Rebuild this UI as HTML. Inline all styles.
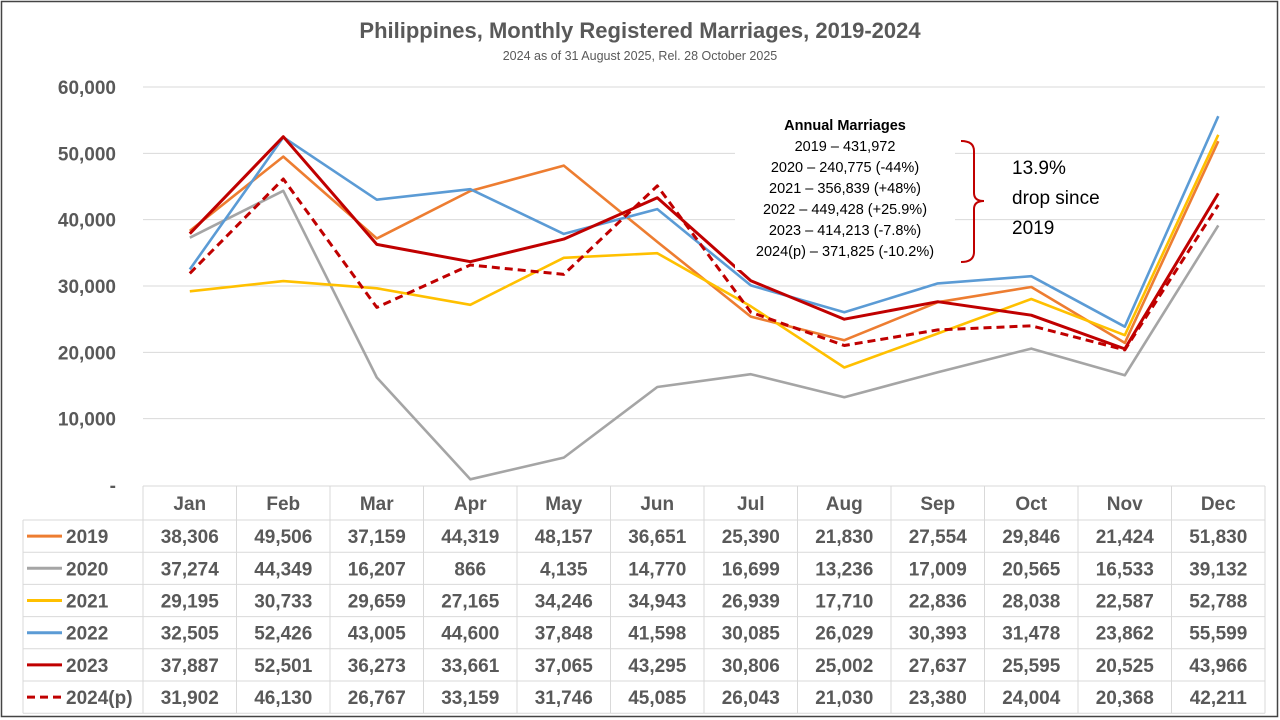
<!DOCTYPE html>
<html><head><meta charset="utf-8"><style>
html,body{margin:0;padding:0;background:#fff}
svg{display:block;font-family:"Liberation Sans",sans-serif}
</style></head><body>
<svg id="c" width="1280" height="720"></svg>
<script>
const months=["Jan","Feb","Mar","Apr","May","Jun","Jul","Aug","Sep","Oct","Nov","Dec"];
const seriesNames=["2019","2020","2021","2022","2023","2024(p)"];
const s2019=[38306,49506,37159,44319,48157,36651,25390,21830,27554,29846,21424,51830];
const s2020=[37274,44349,16207,866,4135,14770,16699,13236,17009,20565,16533,39132];
const s2021=[29195,30733,29659,27165,34246,34943,26939,17710,22836,28038,22587,52788];
const s2022=[32505,52426,43005,44600,37848,41598,30085,26029,30393,31478,23862,55599];
const s2023=[37887,52501,36273,33661,37065,43295,30806,25002,27637,25595,20525,43966];
const s2024=[31902,46130,26767,33159,31746,45085,26043,21030,23380,24004,20368,42211];
const yTicks=[0,10000,20000,30000,40000,50000,60000];
const annual=["2019 – 431,972","2020 – 240,775 (-44%)","2021 – 356,839 (+48%)","2022 – 449,428 (+25.9%)","2023 – 414,213 (-7.8%)","2024(p) – 371,825 (-10.2%)"];

const NS="http://www.w3.org/2000/svg";
const svg=document.getElementById('c');
function el(t,a,txt){const e=document.createElementNS(NS,t);for(const k in a)e.setAttribute(k,a[k]);if(txt!==undefined)e.textContent=txt;svg.appendChild(e);return e;}
const x0=143,x1=1265,colW=(x1-x0)/12;
const y0=485,yTop=87;
const y=v=>y0-(v/60000)*(y0-yTop);
const x=i=>x0+colW*(i+0.5);

let e=el('rect',{x:1.5,y:1.5,width:1276,height:715,fill:'#fff',stroke:'#444','stroke-width':1.5});


e=el('text',{x:640,y:38,'text-anchor':'middle','font-size':22,'font-weight':'bold',fill:'#595959'},'Philippines, Monthly Registered Marriages, 2019-2024');


e=el('text',{x:640,y:60,'text-anchor':'middle','font-size':12.5,fill:'#595959'},'2024 as of 31 August 2025, Rel. 28 October 2025');



yTicks.forEach(v=>{
  if(v>0){e=el('line',{x1:x0,x2:x1,y1:y(v),y2:y(v),stroke:'#d9d9d9','stroke-width':1});
  
  }
  e=el('text',{x:116,y:y(v)+7,'text-anchor':'end','font-size':19,'font-weight':'bold',fill:'#595959'},v===0?'-':v.toLocaleString('en-US'));
  
  
});

// table
const rowH=32.2,tTop=486,hdrH=34;
const tableLeft=23;
const gridC='#d9d9d9';
for(let i=0;i<=12;i++){const xx=x0+colW*i;el('line',{x1:xx,x2:xx,y1:tTop,y2:tTop+hdrH+rowH*6,stroke:gridC});}
el('line',{x1:tableLeft,x2:tableLeft,y1:tTop+hdrH,y2:tTop+hdrH+rowH*6,stroke:gridC});
el('line',{x1:x0,x2:x1,y1:tTop,y2:tTop,stroke:gridC});
for(let r=0;r<=6;r++){const yy=tTop+hdrH+rowH*r;el('line',{x1:tableLeft,x2:x1,y1:yy,y2:yy,stroke:gridC});}
months.forEach((m,i)=>{e=el('text',{x:x(i),y:tTop+24,'text-anchor':'middle','font-size':19,'font-weight':'bold',fill:'#595959'},m);
 
 });

const data=[s2019,s2020,s2021,s2022,s2023,s2024];
const colors=['#ed7d31','#a5a5a5','#ffc000','#5b9bd5','#c00000','#c00000'];
data.forEach((s,k)=>{
  const ry=tTop+hdrH+rowH*k+rowH/2;
  const dash=k===5?{'stroke-dasharray':'8,5'}:{};
  e=el('line',Object.assign({x1:27,x2:62,y1:ry,y2:ry,stroke:colors[k],'stroke-width':3},dash));
  
  
  e=el('text',{x:66,y:ry+7,'font-size':19,'font-weight':'bold',fill:'#595959'},seriesNames[k]);
  
  
  s.forEach((v,i)=>{e=el('text',{x:x(i),y:ry+7,'text-anchor':'middle','font-size':19,'font-weight':'bold',fill:'#595959'},v.toLocaleString('en-US'));
    
    });
});
[1,0,2,3,5,4].forEach(k=>{
  const pts=data[k].map((v,i)=>x(i).toFixed(1)+','+y(v).toFixed(1)).join(' ');
  const dash=k===5?{'stroke-dasharray':'8,5'}:{};
  e=el('polyline',Object.assign({points:pts,fill:'none',stroke:colors[k],'stroke-width':k>=4?3:2.6,'stroke-linejoin':'round'},dash));
  
  
});

// annotation
e=el('rect',{x:735,y:110,width:220,height:160,fill:'#fff'});
e=el('text',{x:845,y:130,'text-anchor':'middle','font-size':14.5,'font-weight':'bold',fill:'#000'},'Annual Marriages');


annual.forEach((t,i)=>{e=el('text',{x:845,y:151+i*21,'text-anchor':'middle','font-size':14.5,fill:'#000'},t);
 
 });
e=el('path',{d:'M961,141 Q974,141 974,151 L974,193 Q974,201 984,201 Q974,201 974,209 L974,252 Q974,262 961,262',fill:'none',stroke:'#c00000','stroke-width':2});


['13.9%','drop since','2019'].forEach((t,i)=>{e=el('text',{x:1012,y:174+i*30,'font-size':19,fill:'#000'},t);
 
 });
</script>
</body></html>
